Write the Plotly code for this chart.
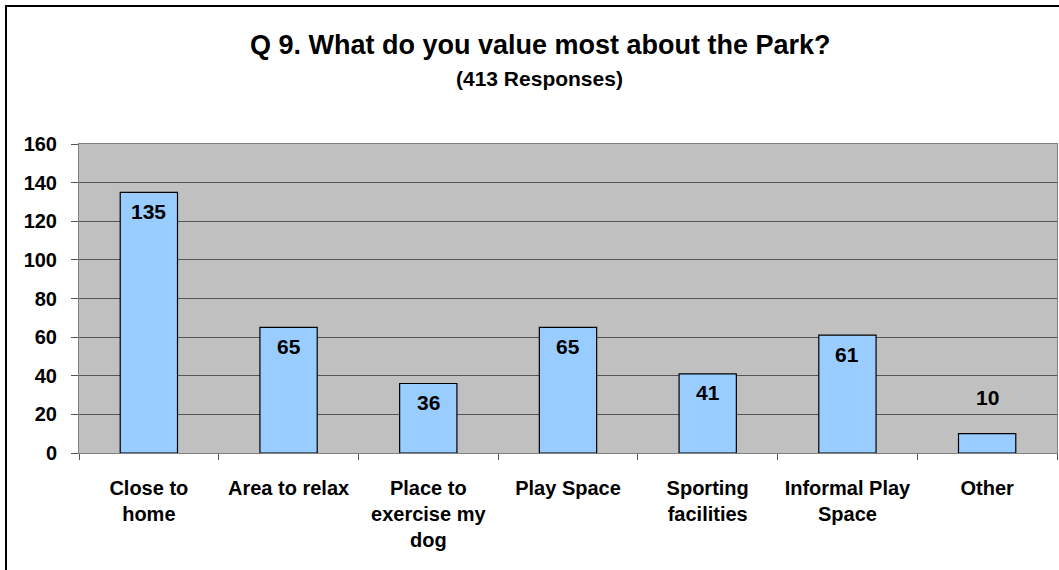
import plotly.graph_objects as go

# Survey answers for Q9 and their response counts
categories = ["Close to<br>home", "Area to relax", "Place to<br>exercise my<br>dog", "Play Space",
              "Sporting<br>facilities", "Informal Play<br>Space", "Other"]
responses = [135, 65, 36, 65, 41, 61, 10]
y_ticks = [0, 20, 40, 60, 80, 100, 120, 140, 160]

W, H = 1059, 570
L, R, T, B = 79, 2, 144, 117
plot_w = W - L - R
plot_h = H - T - B


def px_x(px):
    return (px - L) / plot_w


def px_y(py):
    return (H - B - py) / plot_h


FONT = "Liberation Sans, Arial, sans-serif"

fig = go.Figure()
fig.add_trace(go.Bar(
    x=categories, y=responses, width=0.41,
    marker=dict(color="#99CCFF", line=dict(color="#000000", width=1.2)),
    hoverinfo="x+y",
))

# value labels: inside the top of tall bars, above the short one
for cat, v in zip(categories, responses):
    inside = v > 20
    fig.add_annotation(
        x=cat, y=v, xref="x", yref="y", text=f"<b>{v}</b>", showarrow=False,
        yanchor="middle", yshift=-19 if inside else 36,
        font=dict(family=FONT, size=21, color="#000000"),
    )

fig.add_annotation(
    x=px_x(540), y=px_y(45), xref="paper", yref="paper", showarrow=False,
    text="<b>Q 9. What do you value most about the Park?</b>",
    font=dict(family=FONT, size=27, color="#000000"), yanchor="middle",
)
fig.add_annotation(
    x=px_x(539), y=px_y(79), xref="paper", yref="paper", showarrow=False,
    text="<b>(413 Responses)</b>",
    font=dict(family=FONT, size=21, color="#000000"), yanchor="middle",
)

# outer chart frame
fig.add_shape(type="rect", xref="paper", yref="paper",
              x0=px_x(6), x1=px_x(1070), y0=px_y(6), y1=px_y(600),
              line=dict(color="#000000", width=2), fillcolor="rgba(0,0,0,0)", layer="above")

fig.update_layout(
    width=W, height=H,
    margin=dict(l=L, r=R, t=T, b=B, pad=0),
    paper_bgcolor="#FFFFFF", plot_bgcolor="#C0C0C0",
    showlegend=False, bargap=0.59,
    font=dict(family=FONT, color="#000000"),
    xaxis=dict(
        type="category", tickson="boundaries", ticks="outside", ticklen=6,
        tickcolor="#555555", tickwidth=1,
        showline=True, linecolor="#808080", linewidth=1, mirror=True,
        tickfont=dict(family=FONT, size=20, color="#000000"),
        ticklabelstandoff=17, showgrid=False,
        tickvals=categories, ticktext=[f"<b>{c}</b>" for c in categories],
    ),
    yaxis=dict(
        range=[0, 160], tickvals=y_ticks, ticktext=[f"<b>{t}</b>" for t in y_ticks],
        ticks="outside", ticklen=7, tickcolor="#555555", tickwidth=1,
        showline=True, linecolor="#808080", linewidth=1, mirror=True,
        showgrid=True, gridcolor="#555555", gridwidth=1, zeroline=False,
        tickfont=dict(family=FONT, size=20, color="#000000"),
        ticklabelstandoff=10,
    ),
)

fig.write_html("out.html")
